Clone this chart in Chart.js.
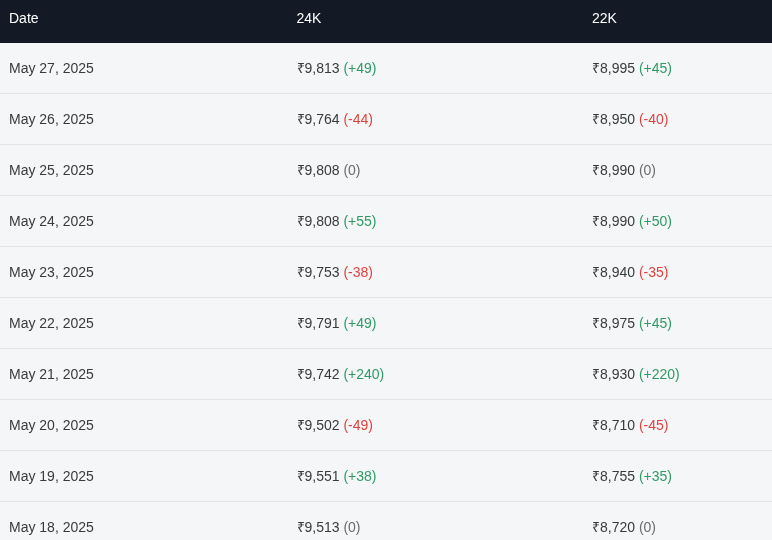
<!DOCTYPE html>
<html>
<head>
<meta charset="utf-8">
<script src="https://cdn.jsdelivr.net/npm/chart.js@4"></script>
<style>
  html, body { margin: 0; padding: 0; overflow: hidden; background: #f4f6f8; }
  #wrap { width: 772px; height: 553px; }
</style>
</head>
<body>
<div id="wrap"><canvas id="rates"></canvas></div>
<script>
const columns = ['Date', '24K', '22K'];
const dates = ['May 27, 2025', 'May 26, 2025', 'May 25, 2025', 'May 24, 2025', 'May 23, 2025',
  'May 22, 2025', 'May 21, 2025', 'May 20, 2025', 'May 19, 2025', 'May 18, 2025'];
const price24k = [9813, 9764, 9808, 9808, 9753, 9791, 9742, 9502, 9551, 9513];
const change24k = [49, -44, 0, 55, -38, 49, 240, -49, 38, 0];
const price22k = [8995, 8950, 8990, 8990, 8940, 8975, 8930, 8710, 8755, 8720];
const change22k = [45, -40, 0, 50, -35, 45, 220, -45, 35, 0];

const FONT = '14px "Liberation Sans", Arial, sans-serif';
const rupee = v => '\u20B9' + v.toLocaleString('en-IN');

function drawChange(ctx, x, y, c) {
  const txt = c > 0 ? '(+' + c + ')' : '(' + c + ')';
  ctx.fillStyle = c > 0 ? '#2f9a63' : c < 0 ? '#e0413f' : '#6b6b6b';
  ctx.fillText(txt, x, y);
}

const tablePlugin = {
  id: 'table',
  beforeDraw(chart) {
    const { ctx, scales: { x, y }, width } = chart;
    const band = y.getPixelForValue(1) - y.getPixelForValue(0);
    const top = y.getPixelForValue(0) - band / 2;
    ctx.save();
    ctx.fillStyle = '#f4f6f8';
    ctx.fillRect(0, 0, width, chart.height);
    ctx.fillStyle = '#131a26';
    ctx.fillRect(0, 0, width, top);
    ctx.strokeStyle = '#e2e4e7';
    ctx.lineWidth = 1;
    dates.forEach((d, i) => {
      const yb = Math.round(y.getPixelForValue(i) + band / 2) - 0.5;
      ctx.beginPath(); ctx.moveTo(0, yb); ctx.lineTo(width, yb); ctx.stroke();
    });
    ctx.font = FONT;
    ctx.textBaseline = 'middle';
    ctx.fillStyle = '#ffffff';
    columns.forEach((c, i) => ctx.fillText(c, x.getPixelForValue(i) - (i === 1 ? 4 : 0), top / 2 - 2));
    ctx.restore();
  },
  afterDraw(chart) {
    const { ctx, scales: { x, y } } = chart;
    ctx.save();
    ctx.font = FONT;
    ctx.textBaseline = 'middle';
    dates.forEach((d, i) => {
      const yy = y.getPixelForValue(i) + 1;
      ctx.fillStyle = '#3a3a3a';
      ctx.fillText(d, x.getPixelForValue(0), yy);
      [[price24k, change24k, 1], [price22k, change22k, 2]].forEach(([p, c, col]) => {
        const s = rupee(p[i]) + ' ';
        const xx = x.getPixelForValue(col) - (col === 1 ? 4 : 0);
        ctx.fillStyle = '#3a3a3a';
        ctx.fillText(s, xx, yy);
        drawChange(ctx, xx + ctx.measureText(s).width, yy, c[i]);
      });
    });
    ctx.restore();
  }
};

new Chart(document.getElementById('rates'), {
  type: 'bar',
  data: { labels: dates, datasets: [] },
  options: {
    responsive: true,
    maintainAspectRatio: false,
    animation: false,
    layout: { padding: { top: 43, bottom: 0, left: 9, right: 180 } },
    plugins: { legend: { display: false }, tooltip: { enabled: false } },
    scales: {
      x: { type: 'category', labels: columns, offset: false, display: false },
      y: { type: 'category', labels: dates, offset: true, display: false }
    }
  },
  plugins: [tablePlugin]
});
</script>
</body>
</html>
